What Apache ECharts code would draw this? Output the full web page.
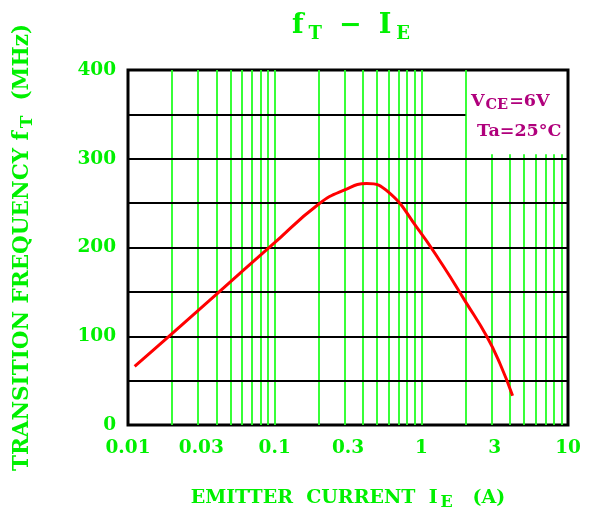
<!DOCTYPE html>
<html>
<head>
<meta charset="utf-8">
<script src="https://cdn.jsdelivr.net/npm/echarts@6/dist/echarts.min.js"></script>
<style>
  html, body { margin: 0; background: #fff; }
  #main { width: 598px; height: 516px; }
</style>
</head>
<body>
<div id="main"></div>
<script>
// fT - IE
var ieAmps = [0.0111, 0.0197, 0.0411, 0.0948, 0.2, 0.3, 0.424, 0.6, 0.929, 1.4, 2.0, 2.79, 3.44, 4.19];
var ftMHz = [66, 102, 149, 202, 249, 265, 272, 262, 223, 180, 139, 100, 69, 33];

// grid lines of the sheet
var xFullLines = [0.02, 0.03, 0.04, 0.05, 0.06, 0.07, 0.08, 0.09, 0.1,
                  0.2, 0.3, 0.4, 0.5, 0.6, 0.7, 0.8, 0.9, 1, 2];
var xShortLines = [3, 4, 5, 6, 7, 8, 9];   // stop under the condition box
var shortTop = 305;
var yFullLines = [50, 100, 150, 200, 250, 300];
var yShortLines = [350];
var shortRight = 2;

var GREEN = '#00f000';
var LINE_GREEN = '#22ff22';
var PURPLE = '#b0007c';
var FONT = 'DejaVu Serif';

var chart = echarts.init(document.getElementById('main'));

var gridMarks = [];
xFullLines.forEach(function (v) {
    gridMarks.push({ xAxis: v, lineStyle: { color: LINE_GREEN, width: 1.8, type: 'solid' } });
});
xShortLines.forEach(function (v) {
    gridMarks.push([
        { coord: [v, 0], lineStyle: { color: LINE_GREEN, width: 1.8, type: 'solid' } },
        { coord: [v, shortTop] }
    ]);
});
yFullLines.forEach(function (v) {
    gridMarks.push({ yAxis: v, lineStyle: { color: '#000', width: 2, type: 'solid' } });
});
yShortLines.forEach(function (v) {
    gridMarks.push([
        { coord: [0.01, v], lineStyle: { color: '#000', width: 2, type: 'solid' } },
        { coord: [shortRight, v] }
    ]);
});

function sub(size, pad, left) {
    return { fontSize: size, fontWeight: 'bold', fontFamily: FONT, color: GREEN, padding: [pad, 0, 0, left || 0] };
}

chart.setOption({
    animation: false,
    title: {
        text: 'f{s|T}{m|−}I{s|E}',
        left: 287,
        top: 4,
        textStyle: {
            fontFamily: FONT, fontWeight: 'bold', fontSize: 27, color: GREEN,
            rich: {
                s: sub(18, 16, 5),
                m: { fontSize: 27, fontWeight: 'bold', fontFamily: FONT, color: GREEN, padding: [0, 17, 0, 17] }
            }
        }
    },
    grid: {
        left: 128, top: 70, width: 440, height: 355,
        show: true, borderColor: '#000', borderWidth: 3, backgroundColor: '#fff'
    },
    xAxis: {
        type: 'log',
        logBase: 10,
        min: 0.01,
        max: 10,
        interval: 0.5,
        name: 'EMITTER  CURRENT  I{sub|E}   (A)',
        nameLocation: 'middle',
        nameGap: 60,
        nameTextStyle: {
            fontFamily: FONT, fontWeight: 'bold', fontSize: 19, color: GREEN,
            rich: { sub: sub(16, 10, 3) }
        },
        axisLine: { show: false },
        axisTick: { show: false },
        splitLine: { show: false },
        axisLabel: {
            margin: 14,
            fontFamily: FONT, fontWeight: 'bold', fontSize: 18.5, color: GREEN,
            formatter: function (v) { return String(Number(v.toPrecision(1))); }
        }
    },
    yAxis: {
        type: 'value',
        min: 0,
        max: 400,
        interval: 100,
        name: 'TRANSITION FREQUENCY f{sub|T}  (MHz)',
        nameLocation: 'middle',
        nameGap: 92,
        nameTextStyle: {
            fontFamily: FONT, fontWeight: 'bold', fontSize: 21.5, color: GREEN,
            rich: { sub: sub(17, 10, 3) }
        },
        axisLine: { show: false },
        axisTick: { show: false },
        splitLine: { show: false },
        axisLabel: {
            margin: 12,
            fontFamily: FONT, fontWeight: 'bold', fontSize: 18.5, color: GREEN
        }
    },
    graphic: [{
        type: 'text',
        left: 471,
        top: 86,
        z: 10,
        style: {
            text: 'V{s|CE}=6V\n Ta=25°C',
            fontFamily: FONT, fontWeight: 'bold', fontSize: 17.5, fill: PURPLE,
            lineHeight: 30,
            rich: {
                s: { fontSize: 14.5, fontWeight: 'bold', fontFamily: FONT, fill: PURPLE, padding: [8, 1, 0, 1] }
            }
        }
    }],
    series: [{
        name: 'grid',
        type: 'line',
        data: [],
        z: 1,
        silent: true,
        markLine: {
            silent: true,
            symbol: 'none',
            label: { show: false },
            animation: false,
            data: gridMarks
        }
    }, {
        name: 'fT',
        type: 'line',
        z: 5,
        smooth: 0.5,
        showSymbol: false,
        lineStyle: { color: '#ff0000', width: 3 },
        data: ieAmps.map(function (x, i) { return [x, ftMHz[i]]; })
    }]
});
</script>
</body>
</html>
